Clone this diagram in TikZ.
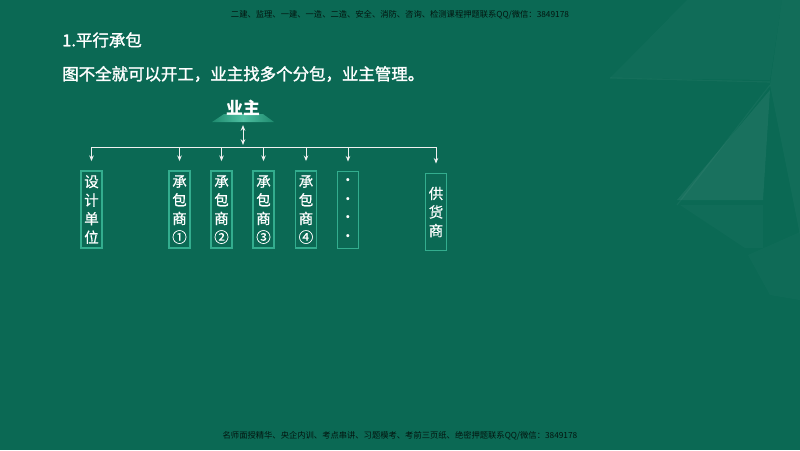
\documentclass[tikz,border=0pt]{standalone}
\usepackage{fontspec}
\setmainfont{Noto Sans CJK SC}
\newfontfamily\cjk{Noto Sans CJK SC}
\newfontfamily\cjkmed[FakeBold=1.6]{Noto Sans CJK SC}
\newfontfamily\cjkbox[FakeBold=0.6]{Noto Sans CJK SC}
\usetikzlibrary{arrows.meta}
\definecolor{bgteal}{HTML}{0B6954}
\definecolor{boxline}{HTML}{33AD8E}
\definecolor{trapL}{HTML}{1E8A6E}
\definecolor{trapC}{HTML}{4FC0A2}
\definecolor{wmark}{HTML}{03140F}
\tikzset{
  unitbox/.style={draw=boxline, line width=1.1pt, fill=none, text=white,
    font=\cjkbox\fontsize{10.3}{13.2}\selectfont, align=center,
    minimum width=21*0.025cm, minimum height=77*0.025cm, inner sep=0pt},
  link/.style={draw=white!88!gray, line width=0.6pt},
  arr/.style={link, -{Stealth[length=4pt,width=3.2pt]}},
  heading/.style={text=white, anchor=west, font=\cjkmed\fontsize{11.7}{14}\selectfont, inner sep=0pt},
  watermark/.style={text=wmark, font=\cjk\fontsize{5.9}{7}\selectfont, inner sep=0pt},
  deco/.style={fill=white, draw=none}
}
\begin{document}
\begin{tikzpicture}[x=0.025cm, y=-0.025cm]
\useasboundingbox (0,0) rectangle (800,450);
\fill[bgteal] (0,0) rectangle (800,450);
% decorative polygons on the right
\fill[deco, opacity=0.025] (687,0) -- (782,0) -- (770,80) -- (610,78) -- cycle;
\fill[deco, opacity=0.03] (782,0) -- (800,0) -- (800,235) -- (770,85) -- cycle;
\fill[deco, opacity=0.06] (770,90) -- (677,200) -- (763,200) -- cycle;
\fill[deco, opacity=0.025] (680,205) -- (763,205) -- (763,248) -- (745,248) -- cycle;
\fill[deco, opacity=0.02] (748,255) -- (800,232) -- (800,300) -- (770,295) -- cycle;
\draw[white, opacity=0.04, line width=0.8pt] (770,82) -- (610,78);
\draw[white, opacity=0.04, line width=0.8pt] (770,85) -- (677,205);

% watermarks
\node[watermark] (wtop) at (400,15) {二建、监理、一建、一造、二造、安全、消防、咨询、检测课程押题联系QQ/微信：3849178};
\node[watermark] (wbot) at (400,436) {名师面授精华、央企内训、考点串讲、习题模考、考前三页纸、绝密押题联系QQ/微信：3849178};

% headings
\node[heading] (h1) at (62,40) {1.平行承包};
\node[heading] (h2) at (62,74) {图不全就可以开工，业主找多个分包，业主管理。};

% owner
\shade[left color=trapL, right color=trapL, middle color=trapC] (212,122) -- (274,122) -- (263,114) -- (224,114) -- cycle;
\coordinate (ownerbase) at (243,123);
\node[text=white, font=\cjk\bfseries\fontsize{12}{14}\selectfont, inner sep=0pt] (owner) at (243,108) {业主};

% boxes
\node[unitbox] (b0) at (91.5,209.5) {设\\计\\单\\位};
\node[unitbox] (b1) at (179.5,209.5) {承\\包\\商\\①};
\node[unitbox] (b2) at (221.5,209.5) {承\\包\\商\\②};
\node[unitbox] (b3) at (263.5,209.5) {承\\包\\商\\③};
\node[unitbox] (b4) at (306,209.5) {承\\包\\商\\④};
\node[unitbox, font=\cjk\bfseries\fontsize{10.3}{13.2}\selectfont] (b5) at (348,210) {\raisebox{0.3em}{.}\\\raisebox{0.3em}{.}\\\raisebox{0.3em}{.}\\\raisebox{0.3em}{.}};
\node[unitbox] (b6) at (436,212) {供\\货\\商};

% bus
\coordinate (bus) at (243,147);
\draw[link, {Stealth[length=4pt,width=3.2pt]}-{Stealth[length=4pt,width=3.2pt]}] ([yshift=-1.5pt]ownerbase) -- ([yshift=1.5pt]bus);
\draw[link] (b0.north |- bus) -- (b6.north |- bus);
\foreach \b in {b0,b1,b2,b3,b4,b5,b6}{
  \draw[arr, shorten >=6.5pt] (\b.north |- bus) -- (\b.north);
}
\end{tikzpicture}
\end{document}
